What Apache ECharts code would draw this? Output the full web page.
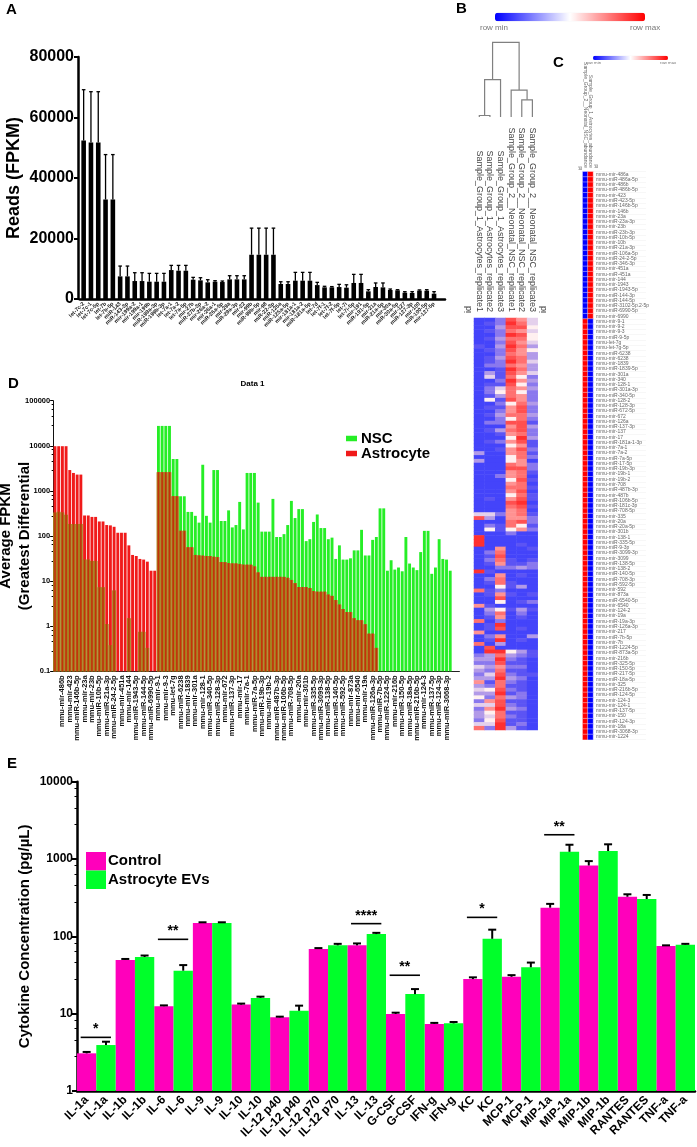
<!DOCTYPE html>
<html><head><meta charset="utf-8">
<style>html,body{margin:0;padding:0;background:#fff}#c{width:697px;height:1147px}</style>
<script src="https://cdn.jsdelivr.net/npm/echarts@6/dist/echarts.min.js"></script>
</head><body><div id="c"></div>
<script>
const FONT = '"Liberation Sans", Arial, sans-serif';
// Panel A
const aLabels = ['let-7c-2','let-7c-1','let-7c-5p','let-7b','let-7b-5p','miR-143','miR-143-3p','mir-199a-2','mir-199a-1','mir-199b','miR-199a-3p','miR-199b-3p','let-7a-1','let-7a-2','let-7a-5p','mir-27b','miR-27b-3p','mir-26a-2','mir-26a-1','miR-26a-5p','mir-29a','miR-29a-3p','mir-22','mir-99b','miR-99b-5p','mir-98','miR-22-3p','miR-125a','miR-125a-5p','mir-181a-1','mir-181a-2','miR-181a-5p','let-7d','let-7f-1','let-7f-2','let-7f-5p','let-7i','let-7i-5p','mir-191','miR-191-5p','mir-21a','miR-21a-5p','mir-30a','miR-30a-5p','mir-127','miR-127-3p','mir-100','miR-100-5p','mir-127-5p',''];
const aValues = [52360,51700,51700,32900,32900,7480,7480,5940,5940,5720,5720,5720,9570,9350,9350,6380,6160,5500,5720,5610,6490,6490,6490,14630,14630,14630,14630,4950,4950,6050,6050,6050,4600,3850,3850,3950,3740,5300,5300,2530,3960,3850,2970,2860,2090,1980,2750,2750,1760];
const aErrors = [69190,68530,68530,47740,47740,10890,10890,8690,8690,8470,8470,8470,11110,11110,11110,7150,7040,6380,6050,5940,7700,7700,7700,23430,23430,23430,23430,5700,5700,8800,8800,8800,5500,4200,4100,4840,4700,8140,8140,3080,5300,5300,3300,3080,2420,2420,3000,3080,2420];
// Panels C and D share these names
const mirNames = ['mmu-mir-486a','mmu-miR-486a-5p','mmu-mir-486b','mmu-miR-486b-5p','mmu-mir-423','mmu-miR-423-5p','mmu-miR-146b-5p','mmu-mir-146b','mmu-mir-23a','mmu-miR-23a-3p','mmu-mir-23b','mmu-miR-23b-3p','mmu-miR-10b-5p','mmu-mir-10b','mmu-miR-21a-3p','mmu-miR-106a-5p','mmu-miR-24-2-5p','mmu-miR-346-3p','mmu-mir-451a','mmu-miR-451a','mmu-mir-144','mmu-mir-1943','mmu-miR-1943-5p','mmu-miR-144-3p','mmu-miR-144-5p','mmu-miR-3102-5p.2-5p','mmu-miR-6990-5p','mmu-mir-6990','mmu-mir-9-1','mmu-mir-9-2','mmu-mir-9-3','mmu-miR-9-5p','mmu-let-7g','mmu-let-7g-5p','mmu-miR-6238','mmu-mir-6238','mmu-mir-1839','mmu-miR-1839-5p','mmu-mir-301a','mmu-mir-340','mmu-mir-128-1','mmu-miR-301a-3p','mmu-miR-340-5p','mmu-mir-128-2','mmu-miR-128-3p','mmu-miR-672-5p','mmu-mir-672','mmu-mir-126a','mmu-miR-137-3p','mmu-mir-137','mmu-mir-17','mmu-miR-181a-1-3p','mmu-mir-7a-1','mmu-mir-7a-2','mmu-miR-7a-5p','mmu-miR-17-5p','mmu-miR-19b-3p','mmu-mir-19b-1','mmu-mir-19b-2','mmu-mir-708','mmu-miR-487b-3p','mmu-mir-487b','mmu-miR-106b-5p','mmu-miR-181c-3p','mmu-miR-708-5p','mmu-mir-335','mmu-mir-20a','mmu-miR-20a-5p','mmu-mir-301b','mmu-mir-138-1','mmu-miR-335-5p','mmu-miR-9-3p','mmu-miR-3099-3p','mmu-mir-3099','mmu-miR-138-5p','mmu-mir-138-2','mmu-miR-140-5p','mmu-miR-708-3p','mmu-miR-592-5p','mmu-mir-592','mmu-mir-873a','mmu-miR-6540-5p','mmu-mir-6540','mmu-mir-124-2','mmu-mir-19a','mmu-miR-19a-3p','mmu-miR-126a-3p','mmu-mir-217','mmu-miR-7b-5p','mmu-mir-7b','mmu-miR-1224-5p','mmu-miR-873a-5p','mmu-mir-216b','mmu-miR-325-5p','mmu-miR-150-5p','mmu-miR-217-5p','mmu-miR-18a-5p','mmu-mir-325','mmu-miR-216b-5p','mmu-miR-124-5p','mmu-mir-124-3','mmu-mir-124-1','mmu-miR-137-5p','mmu-mir-150','mmu-miR-124-3p','mmu-mir-18a','mmu-miR-3068-3p','mmu-mir-1224'];
// Panel D
const dNSC = [330,345,330,295,185,185,185,185,30,30,28,28,7.3,7.3,1.12,0.38,6.2,null,null,null,1.5,null,null,0.75,0.75,0.33,null,null,27600,27600,27600,27600,5100,5100,760,760,342,342,280,198,3800,280,198,2900,2900,215,215,370,155,175,570,140,2500,2500,2500,550,125,125,125,665,95,95,110,175,600,250,395,395,77,85,205,300,150,150,85,92,31,62,30,30,32,48,48,137,37,37,82,95,410,410,17,29,18,20,16.5,95,24.5,20,17.5,44,130,130,14.5,20,85,31,30,17];
const dAstro = [9800,9800,9800,9800,2900,2500,2300,2300,285,285,265,265,210,210,175,172,160,118,118,118,62,38,36,31,30,27,17,17,2600,2600,2600,2600,760,760,130,130,56,56,38,37,36.5,36,36,34.5,34,26.5,26.3,25,24.5,24.5,24,23,23,23,21,15.5,12.4,12.4,12.4,12.4,12.4,12.4,12.4,11.8,10.6,9,7.4,7.4,7.4,7,6,5.8,5.8,5.8,5,4.7,3.8,3,2.4,2.05,2.05,1.5,1.35,1.35,1.1,0.68,0.68,0.33,null,null,null,null,null,null,null,null,null,null,null,null,null,null,null,null,null,null,null,null];
// Panel E
const eLabels = ['IL-1a','IL-1a','IL-1b','IL-1b','IL-6','IL-6','IL-9','IL-9','IL-10','IL-10','IL-12 p40','IL-12 p40','IL-12 p70','IL-12 p70','IL-13','IL-13','G-CSF','G-CSF','IFN-g','IFN-g','KC','KC','MCP-1','MCP-1','MIP-1a','MIP-1a','MIP-1b','MIP-1b','RANTES','RANTES','TNF-a','TNF-a'];
const eControl = [3.07,null,49.5,null,12.5,null,149,null,13.1,null,8.97,null,68.6,null,76.5,null,9.9,null,7.35,null,28,null,30,null,235,null,825,null,325,null,75,null];
const eEVs = [null,3.93,null,54,null,36,null,149,null,16,null,10.9,null,76.5,null,107,null,17.9,null,7.5,null,93,null,39.8,null,1240,null,1270,null,304,null,78];
const eErrors = [3.2,4.34,51,56.5,12.8,42.5,152,152,13.5,16.6,9.15,12.7,70.5,80,81,111,10.3,20.8,7.6,7.8,29.5,122,31.5,45.8,263,1530,940,1550,350,343,76.5,80];
const eSig = [[0,1,4.94,'*'],[4,5,91.5,'**'],[14,15,146,'****'],[16,17,31.4,'**'],[20,21,176,'*'],[24,25,2060,'**']];
// Panel B (one digit per replicate, 0 = row min, 9 = row max)
const bSamples = ['Sample_Group_1_Astrocytes_replicate1','Sample_Group_1_Astrocytes_replicate2','Sample_Group_1_Astrocytes_replicate3','Sample_Group_2__Neonatal_NSC_replicate1','Sample_Group_2__Neonatal_NSC_replicate2','Sample_Group_2__Neonatal_NSC_replicate3'];
const bRows = ['002864','012974','003885','012764','002985','013775','002864','103973','012865','002763','013873','012974','022763','001973','031864','041752','002963','011852','024763','025752','013762','051862','002573','011682','002682','013773','002572','022881','000683','013782','001672','000593','012681','000561','001682','300671','000572','300560','000762','000882','000671','002670','000581','000670','000771','000680','000571','010681','000890','000781','000670','442671','830662','000782','021751','051562','000200','900000','900000','900010','006001','027000','018000','027101','016112','002232','910000','006010','027000','017100','005130','712000','016101','008000','005012','610000','035131','027020','016010','702000','019000','018010','600000','026003','019010','703000','080000','099531','237321','339210','228110','436220','327110','248211','339320','617210','327110','458210','339120','527320','268110','448210','269320','357110','347210','258110','449120','729310'];
// dendrogram merges: left leaf pos, right leaf pos, left height, right height, merge height
const bTree = [[0.5,1.5,0,0,0.02],[1,2.5,0.02,0,0.5],[4.5,5.5,0,0,0.23],[3.5,5,0,0.23,0.36],[1.75,4.25,0.5,0.36,1]];
// Panel C
const cSamples = ['Sample_Group_2__Neonatal_NSC_abundance','Sample_Group_1_Astrocytes_abundance'];
const cNSC   = '000000000000000000000000000011111111111111111111111111111111111111111111111111111111111111111111111111111111';
const cAstro = '111111111111111111111111111100000000000000000000000000000000000000000000000000000000000000000000000000000000';

const dOverlap = dNSC.map((v,i)=> (v!=null && dAstro[i]!=null) ? Math.min(v,dAstro[i]) : null);
const bData = [];
bRows.forEach((r,y)=>{ for(let x=0;x<6;x++) bData.push([x,y,+r[x]]); });
const cData = [];
mirNames.forEach((n,y)=>{ cData.push([0,y,+cNSC[y]]); cData.push([1,y,+cAstro[y]]); });

function errItem(lw,capHalf){
  return function(params,api){
    const p0=api.coord([api.value(0),api.value(1)]), p1=api.coord([api.value(0),api.value(2)]);
    const st={stroke:'#000',lineWidth:lw};
    return {type:'group',children:[
      {type:'line',shape:{x1:p0[0],y1:p0[1],x2:p1[0],y2:p1[1]},style:st},
      {type:'line',shape:{x1:p1[0]-capHalf,y1:p1[1],x2:p1[0]+capHalf,y2:p1[1]},style:st}]};
  };
}
const fmt = v => String(Math.round(v*10)/10);
const black = {lineStyle:{color:'#000',width:2.5}};
const hiddenCat = (gridIndex,n)=>({type:'category',gridIndex,data:n,show:false});
const dCats = mirNames.concat(['','']);
const txt = (text,x,y,fs,o)=>Object.assign({type:'text',x,y,style:Object.assign({text,font:(o&&o.w||'bold')+' '+fs+'px '+FONT,fill:(o&&o.c)||'#000'},o&&o.s)},o&&o.r?{rotation:o.r}:{});
const OB = {outerBoundsMode:'none'};

const option = {
  animation:false, backgroundColor:'#fff', textStyle:{fontFamily:FONT},
  grid:[
    Object.assign({left:80,top:57,width:365,height:242},OB),
    Object.assign({left:53.15,top:400.7,width:406.3,height:270.6},OB),
    Object.assign({left:77,top:781.7,width:618,height:309.3},OB),
    Object.assign({left:474,top:318,width:63.7,height:412},OB),
    Object.assign({left:474,top:42.3,width:63.7,height:74.7},OB),
    Object.assign({left:582.7,top:171.7,width:10.3,height:568},OB)
  ],
  xAxis:[
    {type:'category',gridIndex:0,data:aLabels,axisLine:black,axisTick:{alignWithLabel:true,length:2,lineStyle:{color:'#000'}},
     axisLabel:{rotate:45,interval:0,fontSize:5.5,fontWeight:'bold',color:'#222',margin:4,fontFamily:FONT}},
    {type:'category',gridIndex:1,data:dCats,axisLine:{lineStyle:{color:'#222',width:1}},axisTick:{alignWithLabel:true,length:2,lineStyle:{color:'#000'}},
     axisLabel:{rotate:90,interval:1,fontSize:7.5,fontWeight:'bold',color:'#111',margin:4,fontFamily:FONT}},
    hiddenCat(1,dCats),
    hiddenCat(1,dCats),
    {type:'category',gridIndex:2,data:eLabels,axisLine:black,axisTick:{alignWithLabel:true,length:5,lineStyle:{color:'#000',width:2}},
     axisLabel:{rotate:45,interval:0,fontSize:12,fontWeight:'bold',color:'#000',margin:7,fontFamily:FONT}},
    {type:'category',gridIndex:3,position:'top',data:bSamples,axisLine:{show:false},axisTick:{show:false},
     axisLabel:{rotate:90,interval:0,fontSize:9,color:'#444',margin:6,fontFamily:FONT}},
    {type:'value',gridIndex:4,min:0,max:6,show:false},
    {type:'category',gridIndex:5,position:'top',data:cSamples,axisLine:{show:false},axisTick:{show:false},
     axisLabel:{rotate:90,interval:0,fontSize:5,color:'#666',margin:4,fontFamily:FONT}}
  ],
  yAxis:[
    {type:'value',gridIndex:0,min:0,max:80000,interval:20000,offset:2,splitLine:{show:false},
     axisLine:{show:true,lineStyle:{color:'#000',width:2.5}},axisTick:{show:true,length:4,lineStyle:{color:'#000',width:2}},
     axisLabel:{fontSize:16,fontWeight:'bold',color:'#000',margin:4,formatter:fmt,fontFamily:FONT},
     name:'Reads (FPKM)',nameLocation:'middle',nameGap:55,nameMoveOverlap:false,nameTextStyle:{fontSize:18,fontWeight:'bold',color:'#000',fontFamily:FONT}},
    {type:'log',gridIndex:1,logBase:10,min:0.1,max:100000,startValue:0.1,splitLine:{show:false},
     axisLine:{show:true,lineStyle:{color:'#111',width:1}},axisTick:{show:true,length:3,lineStyle:{color:'#000'}},
     minorTick:{show:true,splitNumber:5,length:1.5,lineStyle:{color:'#000'}},minorSplitLine:{show:false},
     axisLabel:{fontSize:7.5,fontWeight:'bold',color:'#000',margin:3,formatter:fmt,fontFamily:FONT},
     name:'Average FPKM\n(Greatest Differential',nameLocation:'middle',nameGap:19,nameMoveOverlap:false,nameTextStyle:{fontSize:15,fontWeight:'bold',color:'#000',lineHeight:19,fontFamily:FONT}},
    {type:'log',gridIndex:2,logBase:10,min:1,max:10000,startValue:1,splitLine:{show:false},
     axisLine:{show:true,lineStyle:{color:'#000',width:2.5}},axisTick:{show:true,length:5,lineStyle:{color:'#000',width:2}},
     minorTick:{show:true,splitNumber:5,length:2.5,lineStyle:{color:'#000',width:1}},minorSplitLine:{show:false},
     axisLabel:{fontSize:12,fontWeight:'bold',color:'#000',margin:4,formatter:fmt,fontFamily:FONT},
     name:'Cytokine Concentration (pg/µL)',nameLocation:'middle',nameGap:45,nameMoveOverlap:false,nameTextStyle:{fontSize:15,fontWeight:'bold',color:'#000',fontFamily:FONT}},
    {type:'category',gridIndex:3,inverse:true,data:bRows.map((r,i)=>String(i)),show:false},
    {type:'value',gridIndex:4,min:0,max:1,show:false},
    {type:'category',gridIndex:5,inverse:true,data:mirNames,position:'right',axisLine:{show:false},
     axisTick:{show:true,inside:false,length:53,alignWithLabel:false,lineStyle:{color:'#eeeeee',width:0.5}},
     axisLabel:{interval:0,fontSize:5,color:'#666',margin:3,fontFamily:FONT}}
  ],
  legend:[
    {data:['NSC','Astrocyte'],left:346,top:431,orient:'vertical',itemWidth:11,itemHeight:5.5,itemGap:0,padding:0,icon:'rect',selectedMode:false,
     textStyle:{fontSize:15,fontWeight:'bold',color:'#000',padding:[0,0,0,-1],fontFamily:FONT,lineHeight:14.5}},
    {data:['Control','Astrocyte EVs'],left:86,top:852,orient:'vertical',itemWidth:20,itemHeight:18.5,itemGap:0,padding:0,icon:'rect',selectedMode:false,
     textStyle:{fontSize:15,fontWeight:'bold',color:'#000',padding:[0,0,0,-3],fontFamily:FONT}}
  ],
  visualMap:[
    {type:'continuous',seriesIndex:8,min:0,max:9,orient:'horizontal',left:495,top:12.7,itemWidth:8.5,itemHeight:150,padding:0,
     calculable:false,showLabel:false,text:null,hoverLink:false,
     inRange:{color:['#4444fa','#5c54f4','#8a78ee','#b29ae8','#e4d0ec','#fff0f0','#ff9292','#ff7070','#ff5050','#ff3030']},
     controller:{inRange:{color:['#0000ff','#ffffff','#ff0000']}}},
    {type:'continuous',seriesIndex:10,min:0,max:1,orient:'horizontal',left:593,top:55.7,itemWidth:4.4,itemHeight:75,padding:0,
     calculable:false,showLabel:false,text:null,inRange:{color:['#0000ff','#ffffff','#ff0000']},hoverLink:false}
  ],
  series:[
    {name:'Reads',type:'bar',xAxisIndex:0,yAxisIndex:0,data:aValues,barWidth:4.6,itemStyle:{color:'#000'}},
    {name:'Reads error',type:'custom',xAxisIndex:0,yAxisIndex:0,data:aValues.map((v,i)=>[i,v,aErrors[i]]),encode:{x:0,y:2},renderItem:errItem(1.3,1.8),z:1},
    {name:'NSC',type:'bar',xAxisIndex:1,yAxisIndex:1,data:dNSC,barWidth:2.9,barGap:'-100%',itemStyle:{color:'#26ee26'}},
    {name:'Astrocyte',type:'bar',xAxisIndex:1,yAxisIndex:1,data:dAstro,barWidth:2.9,barGap:'-100%',itemStyle:{color:'#f01a1a'}},
    {name:'Overlap',type:'bar',xAxisIndex:2,yAxisIndex:1,data:dOverlap,barWidth:3.7,itemStyle:{color:'#a8801e'},z:3},
    {name:'Overlap core',type:'bar',xAxisIndex:3,yAxisIndex:1,data:dOverlap,barWidth:1.6,itemStyle:{color:'#c4300c'},z:4},
    {name:'Control',type:'bar',xAxisIndex:4,yAxisIndex:2,data:eControl,barWidth:'100%',barGap:'-100%',itemStyle:{color:'#ff00bb'}},
    {name:'Astrocyte EVs',type:'bar',xAxisIndex:4,yAxisIndex:2,data:eEVs,barWidth:'100%',barGap:'-100%',itemStyle:{color:'#00ff2a'}},
    {name:'Replicates',type:'heatmap',xAxisIndex:5,yAxisIndex:3,data:bData,progressive:0},
    {name:'Tree',type:'custom',xAxisIndex:6,yAxisIndex:4,data:bTree,encode:{x:[0,1],y:4},clip:false,
     renderItem(params,api){
       const a=api.coord([api.value(0),api.value(2)]),b=api.coord([api.value(0),api.value(4)]),c=api.coord([api.value(1),api.value(4)]),d=api.coord([api.value(1),api.value(3)]);
       return {type:'polyline',shape:{points:[a,b,c,d]},style:{stroke:'#808080',lineWidth:1.2,fill:null}};
     }},
    {name:'Abundance',type:'heatmap',xAxisIndex:7,yAxisIndex:5,data:cData,progressive:0,itemStyle:{borderColor:'#ffffff',borderWidth:0.4}},
    {name:'Cytokine error',type:'custom',xAxisIndex:4,yAxisIndex:2,data:eErrors.map((v,i)=>[i,eControl[i]!=null?eControl[i]:eEVs[i],v]),encode:{x:0,y:2},renderItem:errItem(2,4),z:5},
    {name:'Significance',type:'custom',xAxisIndex:4,yAxisIndex:2,data:eSig,encode:{x:[0,1],y:2},z:6,
     renderItem(params,api){
       const p=api.coord([api.value(0),api.value(2)]),q=api.coord([api.value(1),api.value(2)]);
       const s=eSig[params.dataIndex][3];
       return {type:'group',children:[
         {type:'line',shape:{x1:p[0]-6,y1:p[1],x2:q[0]+5,y2:q[1]},style:{stroke:'#000',lineWidth:1.6}},
         {type:'text',x:(p[0]+q[0])/2-0.5,y:p[1]-1,style:{text:s,font:'bold 14px '+FONT,fill:'#000',textAlign:'center',textVerticalAlign:'bottom'}}]};
     }}
  ],
  graphic:[
    txt('A',6,2,15),txt('B',456,1,15),txt('C',553,55,15),txt('D',8,376,15),txt('E',7,756,15),
    txt('Data 1',240.5,380,8),
    txt('row min',480,24,8,{w:'normal',c:'#777'}),txt('row max',630,24,8,{w:'normal',c:'#777'}),
    txt('row min',586,61,4.3,{w:'normal',c:'#777'}),txt('row max',660,61,4.3,{w:'normal',c:'#777'}),
    txt('id',464,313,9,{w:'normal',c:'#444',r:Math.PI/2}),txt('id',539,313,9,{w:'normal',c:'#444',r:Math.PI/2}),
    txt('id',578.5,170,4.5,{w:'normal',c:'#666',r:Math.PI/2}),txt('id',594.5,168,4.5,{w:'normal',c:'#666',r:Math.PI/2})
  ]
};
const chart = echarts.init(document.getElementById('c'),null,{renderer:'canvas'});
chart.setOption(option);
</script></body></html>
